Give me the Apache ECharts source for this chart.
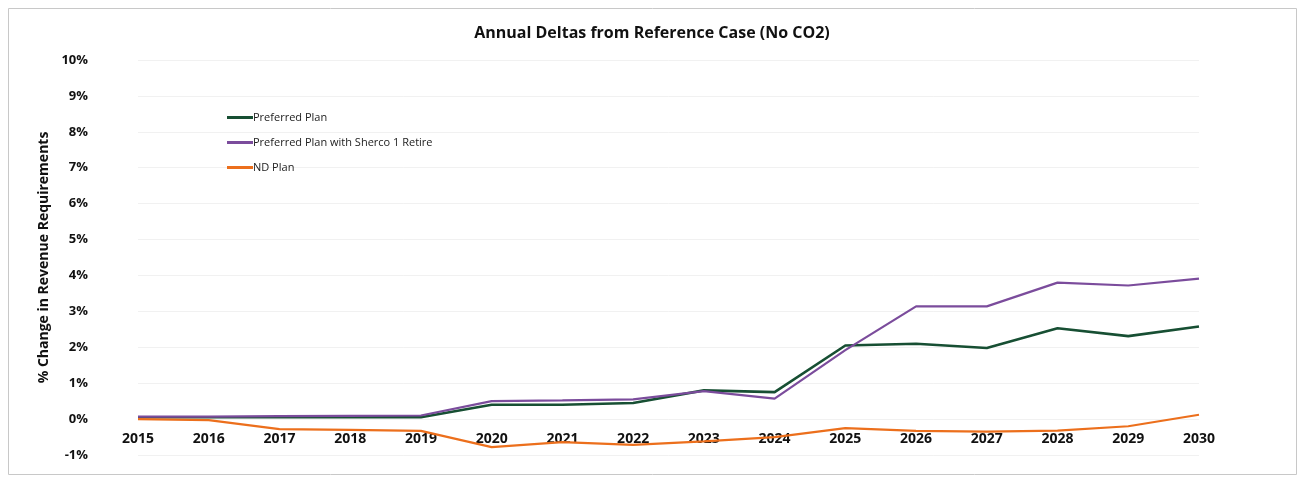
<!DOCTYPE html>
<html>
<head>
<meta charset="utf-8">
<script src="https://cdn.jsdelivr.net/npm/echarts@6/dist/echarts.min.js"></script>
<style>
  html, body { margin: 0; padding: 0; background: #fff; }
  #chart { width: 1304px; height: 481px; }
</style>
</head>
<body>
<div id="chart"></div>
<script>
// Years on the category axis
const years = ['2015','2016','2017','2018','2019','2020','2021','2022','2023','2024','2025','2026','2027','2028','2029','2030'];

// Annual change in revenue requirements vs. the reference case, in percent
const preferredPlan = [0.05, 0.05, 0.05, 0.05, 0.05, 0.40, 0.40, 0.45, 0.80, 0.75, 2.05, 2.10, 1.98, 2.53, 2.31, 2.58];
const preferredSherco = [0.07, 0.07, 0.08, 0.09, 0.10, 0.50, 0.52, 0.55, 0.78, 0.57, 1.92, 3.14, 3.14, 3.80, 3.72, 3.91];
const ndPlan = [0.00, -0.03, -0.28, -0.30, -0.33, -0.78, -0.64, -0.72, -0.62, -0.50, -0.25, -0.33, -0.35, -0.32, -0.20, 0.12];

const seriesNames = ['Preferred Plan', 'Preferred Plan with Sherco 1 Retire', 'ND Plan'];
const seriesColors = ['#174f33', '#7b4c9c', '#ec6f1c'];

const font = '"Liberation Sans Narrow", "Open Sans", "Liberation Sans", sans-serif';
const gridBottom = 26;

const chart = echarts.init(document.getElementById('chart'));
chart.setOption({
  backgroundColor: '#fff',
  animation: false,
  title: {
    text: 'Annual Deltas from Reference Case (No CO2)',
    left: 'center',
    top: 20,
    textStyle: { fontFamily: font, fontSize: 16, fontWeight: 'bold', color: '#111' }
  },
  graphic: [{
    type: 'rect',
    shape: { x: 8.5, y: 8.5, width: 1288, height: 466 },
    style: { fill: 'none', stroke: '#c8c8c8', lineWidth: 1 },
    silent: true
  }],
  legend: {
    orient: 'vertical',
    left: 222,
    top: 107,
    itemWidth: 26,
    itemHeight: 3,
    itemGap: 14,
    icon: 'rect',
    textStyle: { fontFamily: font, fontSize: 11, color: '#222', padding: [0, 0, 0, -5] },
    data: seriesNames
  },
  grid: { left: 138, right: 105, top: 60, bottom: gridBottom },
  xAxis: {
    type: 'category',
    data: years,
    boundaryGap: false,
    axisLine: { show: false, onZero: false },
    axisTick: { show: false },
    axisLabel: { margin: 18, fontFamily: font, fontSize: 14, fontWeight: 'bold', color: '#111' },
    splitLine: { show: false }
  },
  yAxis: {
    type: 'value',
    min: -1,
    max: 10,
    interval: 1,
    name: '% Change in Revenue Requirements',
    nameLocation: 'middle',
    nameGap: 75,
    nameTextStyle: { fontFamily: font, fontSize: 14, fontWeight: 'bold', color: '#111' },
    axisLine: { show: false },
    axisTick: { show: false },
    axisLabel: {
      margin: 50,
      align: 'right',
      fontFamily: font, fontSize: 13, fontWeight: 'bold', color: '#111',
      formatter: v => v + '%'
    },
    splitLine: { show: true, lineStyle: { color: '#f1f1f1', width: 1 } }
  },
  series: [
    { name: seriesNames[0], type: 'line', data: preferredPlan, symbol: 'none', color: seriesColors[0], lineStyle: { width: 2.6, color: seriesColors[0] } },
    { name: seriesNames[1], type: 'line', data: preferredSherco, symbol: 'none', color: seriesColors[1], lineStyle: { width: 2.2, color: seriesColors[1] } },
    { name: seriesNames[2], type: 'line', data: ndPlan, symbol: 'none', color: seriesColors[2], lineStyle: { width: 2.2, color: seriesColors[2] } }
  ]
});

// Year labels sit along the 0% line: shift the category axis up from the
// bottom of the grid to where the value axis puts zero.
const zeroY = chart.convertToPixel({ yAxisIndex: 0 }, 0);
const bottomY = chart.getHeight() - gridBottom;
chart.setOption({ xAxis: { offset: zeroY - bottomY } });
</script>
</body>
</html>
